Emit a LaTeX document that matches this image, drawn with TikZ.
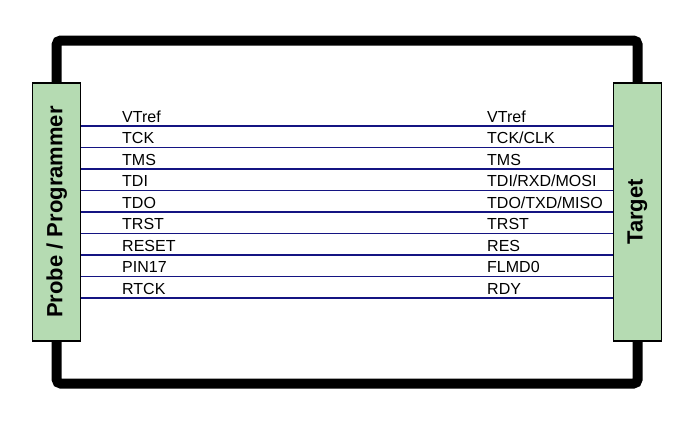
\documentclass[tikz,border=0pt]{standalone}
\usepackage{fontspec}
\setmainfont{Liberation Sans}
\definecolor{boxgreen}{RGB}{181,219,178}
\definecolor{sigblue}{RGB}{20,20,130}
\begin{document}
\begin{tikzpicture}[x=1pt,y=-1pt,
  endbox/.style={draw=black,line width=1.4pt,fill=boxgreen,minimum width=48pt,minimum height=258pt,inner sep=0pt},
  boxlabel/.style={rotate=90,font=\fontsize{22}{24}\selectfont\bfseries},
  cable/.style={line width=10pt,black,rounded corners=4pt},
  sig/.style={draw=sigblue,line width=1.6pt},
  siglabel/.style={anchor=base west,inner sep=0pt,font=\fontsize{16}{18}\selectfont}]
\useasboundingbox (0,0) rectangle (697,424);
\coordinate (top) at (347,40.5);
\coordinate (bot) at (347,383.5);
\coordinate (Lc) at (56.7,212);
\coordinate (Rc) at (637.5,212);
\draw[cable] (Lc) |- (top) -| (Rc);
\draw[cable] (Lc) |- (bot) -| (Rc);
\node[endbox] (L) at (Lc) {};
\node[endbox] (R) at (Rc) {};
\node[boxlabel] (Lt) at (L.center) {Probe / Programmer};
\node[boxlabel] (Rt) at (R.center) {Target};
\foreach \y/\a/\b [count=\i] in {126/VTref/VTref,147.5/TCK/{TCK/CLK},169/TMS/TMS,190.5/TDI/{TDI/RXD/MOSI},212/TDO/{TDO/TXD/MISO},233.5/TRST/TRST,255/RESET/RES,276.5/PIN17/FLMD0,298/RTCK/RDY}{
  \coordinate (s\i) at (0,\y);
  \draw[sig] (L.east |- s\i) -- (R.west |- s\i);
  \node[siglabel] (la\i) at (122,\y-4) {\a};
  \node[siglabel] (lb\i) at (487,\y-4) {\b};
}
\end{tikzpicture}
\end{document}
